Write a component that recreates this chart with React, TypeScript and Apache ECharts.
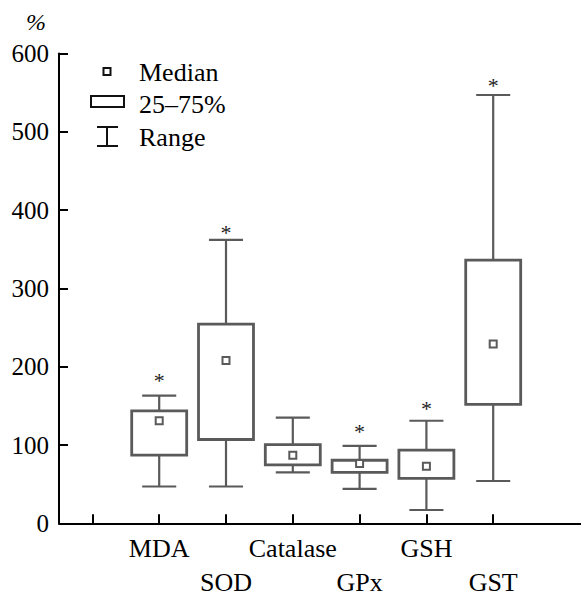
import React, { useEffect, useRef } from "react";
import * as echarts from "echarts";

const categories = ["", "MDA", "SOD", "Catalase", "GPx", "GSH", "GST", ""];
const itemIndex = [1, 2, 3, 4, 5, 6];
const minVals = [47, 47, 65, 44, 17, 54];
const q1Vals = [87, 107, 74.5, 65, 57.5, 152];
const medianVals = [131, 208, 87, 76.5, 73, 229];
const q3Vals = [143.5, 254.5, 100.5, 80.5, 93.5, 336];
const maxVals = [163, 362, 135, 99, 131, 547];
const starVals: (number | null)[] = [187, 377, null, 122, 152, 564];
const yTicks = { min: 0, max: 600, step: 100 };
const legendItems = ["Median", "25–75%", "Range"];

const FONT = "Liberation Serif";
const GRAY = "#5a5a5a";

export default function App() {
  const ref = useRef<HTMLDivElement>(null);
  useEffect(() => {
    if (!ref.current) return;
    const chart = echarts.init(ref.current, undefined, { renderer: "svg" });
    const data = itemIndex.map((idx, i) => [
      idx,
      minVals[i],
      q1Vals[i],
      medianVals[i],
      q3Vals[i],
      maxVals[i],
      starVals[i] == null ? -1 : (starVals[i] as number),
    ]);
    const renderItem = (params: any, api: any) => {
      const x = api.value(0);
      const band = api.size([1, 0])[0];
      const bw = band * 0.823;
      const cw = band * 0.51;
      const pMin = api.coord([x, api.value(1)]);
      const pQ1 = api.coord([x, api.value(2)]);
      const pMed = api.coord([x, api.value(3)]);
      const pQ3 = api.coord([x, api.value(4)]);
      const pMax = api.coord([x, api.value(5)]);
      const cx = pMin[0];
      const lineStyle = { stroke: GRAY, lineWidth: 2.2, fill: null };
      const children: any[] = [
        { type: "line", shape: { x1: cx, y1: pMin[1], x2: cx, y2: pQ1[1] }, style: lineStyle },
        { type: "line", shape: { x1: cx, y1: pQ3[1], x2: cx, y2: pMax[1] }, style: lineStyle },
        { type: "line", shape: { x1: cx - cw / 2, y1: pMin[1], x2: cx + cw / 2, y2: pMin[1] }, style: lineStyle },
        { type: "line", shape: { x1: cx - cw / 2, y1: pMax[1], x2: cx + cw / 2, y2: pMax[1] }, style: lineStyle },
        {
          type: "rect",
          shape: { x: cx - bw / 2, y: pQ3[1], width: bw, height: pQ1[1] - pQ3[1] },
          style: { stroke: GRAY, lineWidth: 2.8, fill: "rgba(255,255,255,0)" },
        },
        {
          type: "rect",
          shape: { x: pMed[0] - 3.5, y: pMed[1] - 3.5, width: 7, height: 7 },
          style: { stroke: GRAY, lineWidth: 2, fill: "#fff" },
        },
      ];
      const star = api.value(6);
      if (star >= 0) {
        const pStar = api.coord([x, star]);
        children.push({
          type: "text",
          x: cx,
          y: pStar[1] + 4,
          style: {
            text: "*",
            fill: "#222",
            fontFamily: FONT,
            fontSize: 22,
            align: "center",
            verticalAlign: "middle",
          },
        });
      }
      return { type: "group", children };
    };

    const blackLine = { color: "#000", width: 2 };
    chart.setOption({
      animation: false,
      backgroundColor: "#fff",
      textStyle: { fontFamily: FONT },
      grid: {
        left: 59,
        top: 53.5,
        bottom: 69.7,
        right: -12.4,
        containLabel: false,
        outerBoundsMode: "none",
      },
      xAxis: {
        type: "category",
        data: categories,
        boundaryGap: true,
        axisLine: { show: true, lineStyle: blackLine },
        axisTick: {
          show: true,
          inside: true,
          length: 9,
          alignWithLabel: true,
          interval: (index: number) => index <= 6,
          lineStyle: blackLine,
        },
        axisLabel: {
          interval: 0,
          margin: 8,
          color: "#000",
          fontFamily: FONT,
          fontSize: 26,
          lineHeight: 34,
          formatter: (value: string, index: number) =>
            index % 2 === 0 && value ? "\n" + value : value,
        },
        splitLine: { show: false },
      },
      yAxis: {
        type: "value",
        min: yTicks.min,
        max: yTicks.max,
        interval: yTicks.step,
        axisLine: { show: true, lineStyle: blackLine },
        axisTick: { show: true, inside: true, length: 9, lineStyle: blackLine },
        axisLabel: { margin: 10, color: "#000", fontFamily: FONT, fontSize: 25 },
        splitLine: { show: false },
      },
      series: [
        {
          type: "custom",
          renderItem,
          data,
          encode: { x: 0, y: [1, 2, 3, 4, 5] },
          clip: false,
        },
      ],
      graphic: [
        {
          type: "text",
          left: 26,
          top: 10,
          style: { text: "%", fill: "#000", fontFamily: FONT, fontStyle: "italic", fontSize: 24 },
        },
        {
          type: "rect",
          shape: { x: 103.5, y: 68, width: 7, height: 7 },
          style: { stroke: "#111", lineWidth: 2, fill: "#fff" },
        },
        {
          type: "rect",
          shape: { x: 91, y: 96, width: 33, height: 11 },
          style: { stroke: "#111", lineWidth: 2, fill: "#fff" },
        },
        {
          type: "line",
          shape: { x1: 107, y1: 127, x2: 107, y2: 146 },
          style: { stroke: "#111", lineWidth: 2 },
        },
        {
          type: "line",
          shape: { x1: 97, y1: 127, x2: 118, y2: 127 },
          style: { stroke: "#111", lineWidth: 2 },
        },
        {
          type: "line",
          shape: { x1: 97, y1: 146, x2: 118, y2: 146 },
          style: { stroke: "#111", lineWidth: 2 },
        },
        ...legendItems.map((t, i) => ({
          type: "text",
          x: 139,
          y: [72, 104, 137][i],
          style: {
            text: t,
            fill: "#000",
            fontFamily: FONT,
            fontSize: 26,
            align: "left",
            verticalAlign: "middle",
          },
        })),
      ],
    });
    return () => chart.dispose();
  }, []);
  return (
    <div
      ref={ref}
      style={{ position: "absolute", left: 0, top: 0, width: 581, height: 593, background: "#fff" }}
    />
  );
}
